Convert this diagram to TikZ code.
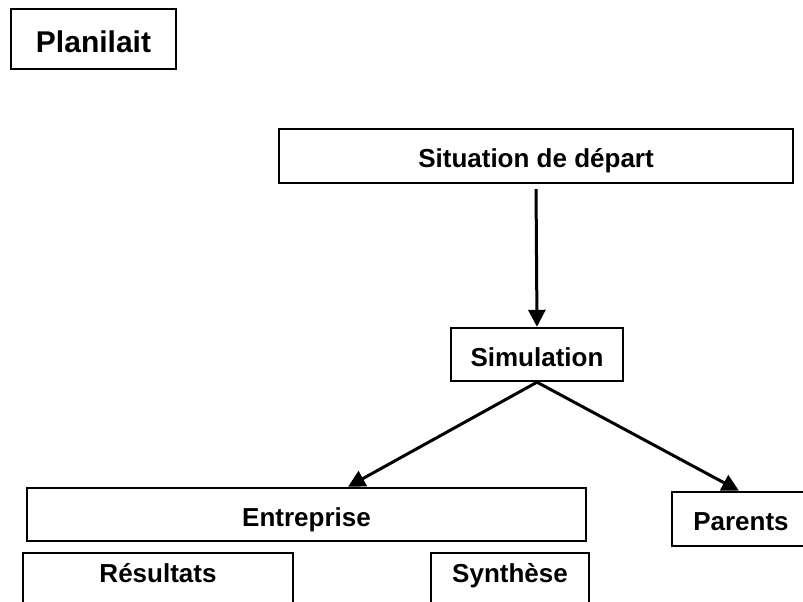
\documentclass[tikz,border=0pt]{standalone}
\usepackage{fontspec}
\setmainfont{Liberation Sans}
\usetikzlibrary{arrows.meta,calc}

\tikzset{
  box/.style={draw, line width=2.4pt, inner sep=0pt, align=center,
    font=\fontsize{26pt}{30pt}\selectfont\bfseries,
    text height=23pt, text depth=0pt},
  lowbox/.style={box, text depth=18pt},
  conn/.style={line width=3pt, -{Triangle[length=17pt,width=17pt]}}
}

\begin{document}
\begin{tikzpicture}[x=1pt, y=-1pt]
  \useasboundingbox (0,0) rectangle (803,602);
  \clip (0,0) rectangle (803,602);

  % title
  \node[box, minimum width=165pt, minimum height=60pt,
        font=\fontsize{30pt}{34pt}\selectfont\bfseries, text height=27.5pt]
        (plan) at (93.5,39) {Planilait};

  % tree
  \node[box, minimum width=514pt, minimum height=54pt] (sit) at (536,156) {Situation de départ};
  \node[box, minimum width=172pt, minimum height=53pt] (sim) at (537,354.5) {Simulation};
  \node[box, minimum width=559pt, minimum height=53pt] (ent) at (306.5,514.5) {Entreprise};
  \node[box, minimum width=138pt, minimum height=54pt] (par) at (741,519) {Parents};
  \node[lowbox, minimum width=270pt, minimum height=54pt] (res) at (158,580) {Résultats};
  \node[lowbox, minimum width=158pt, minimum height=54pt] (syn) at (510,580) {Synthèse};

  % connectors
  \coordinate (entIn) at ($(ent.north)+(41.5,0)$);
  \coordinate (parIn) at ($(par.north)+(-2,0)$);
  \draw[conn, shorten <=5pt] (sit.south) -- (sim.north);
  \draw[conn] (sim.south) -- (entIn);
  \draw[conn] (sim.south) -- (parIn);
\end{tikzpicture}
\end{document}
